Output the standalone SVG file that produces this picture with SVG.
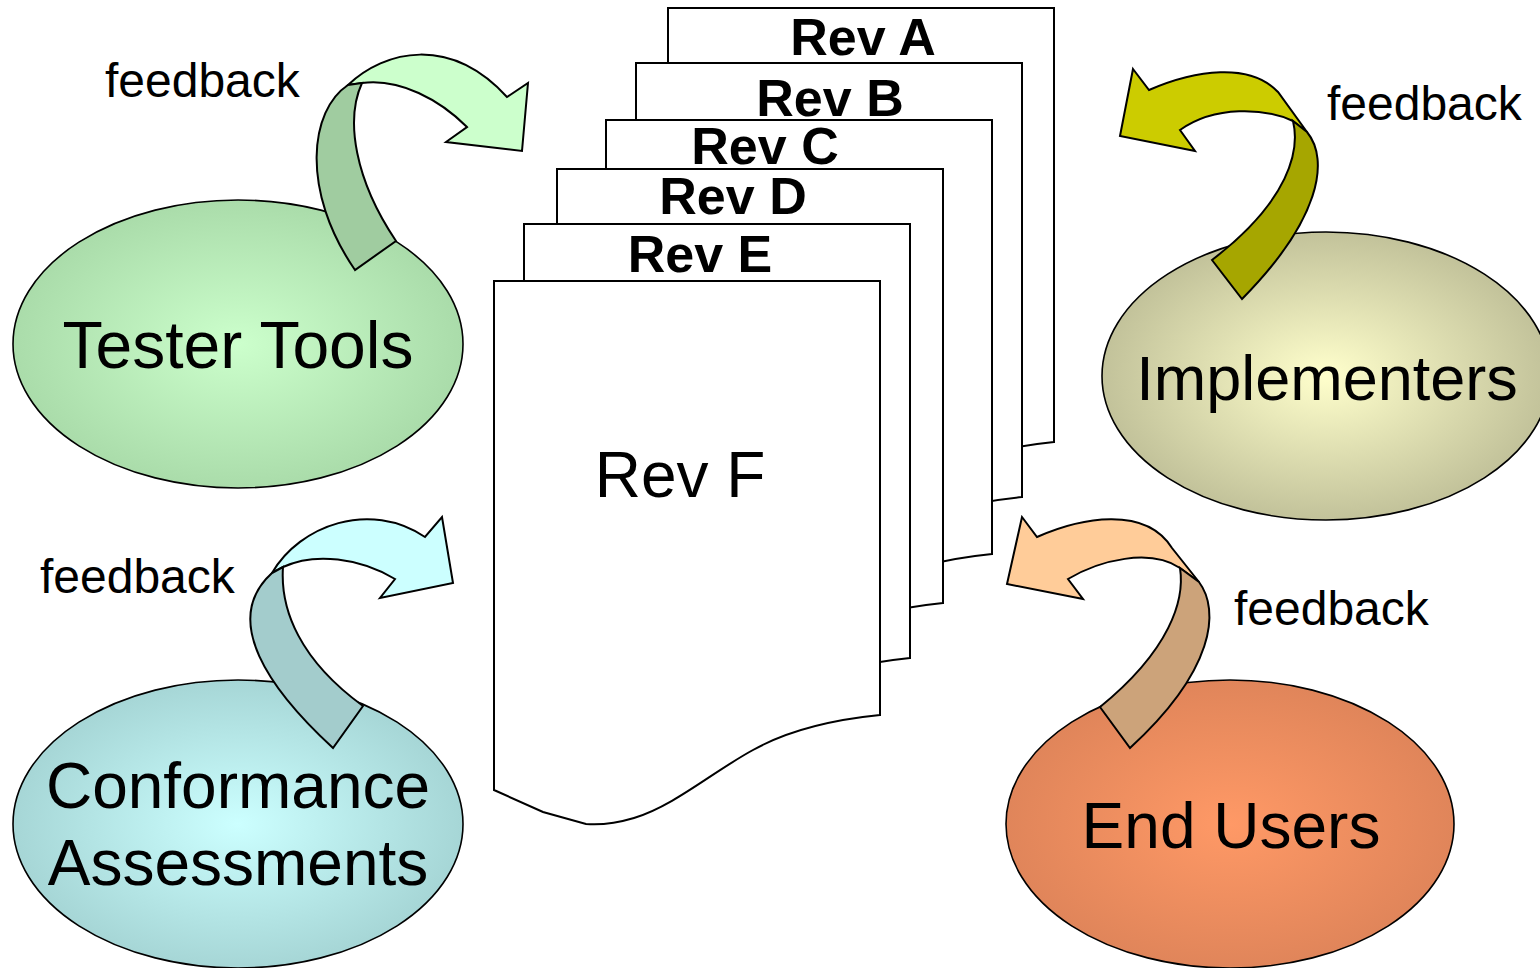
<svg xmlns="http://www.w3.org/2000/svg" width="1540" height="968" viewBox="0 0 1540 968">
  <defs>
    <style>
      text { font-family: "Liberation Sans", Arial, sans-serif; fill: #000; }
      .node { font-size: 64px; text-anchor: middle; }
      .rev { font-size: 52px; font-weight: bold; text-anchor: middle; }
      .fb { font-size: 48px; }
      .doc { fill: #fff; stroke: #000; stroke-width: 2; stroke-linejoin: miter; }
      .ell { stroke: #000; stroke-width: 1.6; }
      .arr { stroke: #000; stroke-width: 2; stroke-linejoin: miter; }
    </style>
    <!-- document shape with wavy bottom, origin at top-left corner -->
    <path id="docShape" d="M0,0 H386 V434 C346,438 300,446 259,469 C220,490 180,525 140,537 C120,543 105,544 92,543 L49,531 L0,509 Z"/>
    <radialGradient id="gGreen" cx="50%" cy="50%" r="50%">
      <stop offset="0" stop-color="#ccffcc"/>
      <stop offset="1" stop-color="#aadcaa"/>
    </radialGradient>
    <radialGradient id="gYellow" cx="50%" cy="50%" r="50%">
      <stop offset="0" stop-color="#ffffcc"/>
      <stop offset="1" stop-color="#c2c29a"/>
    </radialGradient>
    <radialGradient id="gCyan" cx="50%" cy="50%" r="50%">
      <stop offset="0" stop-color="#ccffff"/>
      <stop offset="1" stop-color="#a6d6d6"/>
    </radialGradient>
    <radialGradient id="gOrange" cx="50%" cy="50%" r="50%">
      <stop offset="0" stop-color="#ff9966"/>
      <stop offset="1" stop-color="#e0855a"/>
    </radialGradient>
  </defs>

  <rect width="1540" height="968" fill="#fff"/>

  <!-- stacked revisions, oldest at the back -->
  <g id="rev-a">
    <use href="#docShape" class="doc" transform="translate(668,8)"/>
    <text class="rev" x="863" y="55">Rev A</text>
  </g>
  <g id="rev-b">
    <use href="#docShape" class="doc" transform="translate(636,63)"/>
    <text class="rev" x="830" y="116">Rev B</text>
  </g>
  <g id="rev-c">
    <use href="#docShape" class="doc" transform="translate(606,120)"/>
    <text class="rev" x="765" y="164">Rev C</text>
  </g>
  <g id="rev-d">
    <use href="#docShape" class="doc" transform="translate(557,169)"/>
    <text class="rev" x="733" y="214">Rev D</text>
  </g>
  <g id="rev-e">
    <use href="#docShape" class="doc" transform="translate(524,224)"/>
    <text class="rev" x="700" y="272">Rev E</text>
  </g>
  <g id="rev-f">
    <use href="#docShape" class="doc" transform="translate(494,281)"/>
    <text class="node" x="680" y="497">Rev F</text>
  </g>

  <!-- stakeholder groups -->
  <g id="tester-tools">
    <ellipse class="ell" cx="238" cy="344" rx="225" ry="144" fill="url(#gGreen)"/>
    <text class="node" x="238" y="368" style="font-size:66px">Tester Tools</text>
  </g>
  <g id="implementers">
    <ellipse class="ell" cx="1326" cy="376" rx="224" ry="144" fill="url(#gYellow)"/>
    <text class="node" x="1327" y="400" style="font-size:63px">Implementers</text>
  </g>
  <g id="conformance-assessments">
    <ellipse class="ell" cx="238" cy="824" rx="225" ry="144" fill="url(#gCyan)"/>
    <text class="node" x="238" y="808">Conformance</text>
    <text class="node" x="238" y="885">Assessments</text>
  </g>
  <g id="end-users">
    <ellipse class="ell" cx="1230" cy="824" rx="224" ry="144" fill="url(#gOrange)"/>
    <text class="node" x="1231" y="848">End Users</text>
  </g>

  <!-- feedback arrows: light head band plus darker twisted tail -->
  <g id="connectors">
    <g id="fb-tester">
      <path class="arr" fill="#ccffcc" d="M348,85 C385,50 450,35 507,97 L528,83 L522,151 L446,142 L467,127 C440,100 400,78 362,83 Z"/>
      <path class="arr" fill="#a0cca0" d="M348,85 L362,83 C345,120 355,180 396,241 L355,270 C300,190 310,110 348,85 Z"/>
      <text class="fb" x="105" y="97">feedback</text>
    </g>
    <g id="fb-implementers">
      <path class="arr" fill="#cccc00" d="M1133,69 L1149,90 C1195,70 1250,62 1278,92 L1307,132 L1293,121 C1265,108 1215,105 1180,130 L1195,151 L1120,136 Z"/>
      <path class="arr" fill="#a6a600" d="M1293,121 L1307,132 C1330,160 1320,220 1242,299 L1212,260 C1290,200 1300,150 1293,121 Z"/>
      <text class="fb" x="1327" y="120">feedback</text>
    </g>
    <g id="fb-conformance">
      <path class="arr" fill="#ccffff" d="M272,573 C300,525 370,500 425,537 L442,517 L453,583 L380,598 L395,579 C360,558 315,552 283,567 Z"/>
      <path class="arr" fill="#a3cccc" d="M272,573 L283,567 C280,610 300,660 363,706 L333,748 C270,690 220,620 272,573 Z"/>
      <text class="fb" x="40" y="593">feedback</text>
    </g>
    <g id="fb-end-users">
      <path class="arr" fill="#ffcc99" d="M1022,517 L1037,537 C1080,518 1145,505 1172,548 L1199,582 L1180,568 C1150,548 1100,560 1068,579 L1083,599 L1007,584 Z"/>
      <path class="arr" fill="#cca37a" d="M1180,568 L1199,582 C1220,610 1215,670 1130,748 L1100,707 C1170,650 1185,600 1180,568 Z"/>
      <text class="fb" x="1234" y="625">feedback</text>
    </g>
  </g>
</svg>
